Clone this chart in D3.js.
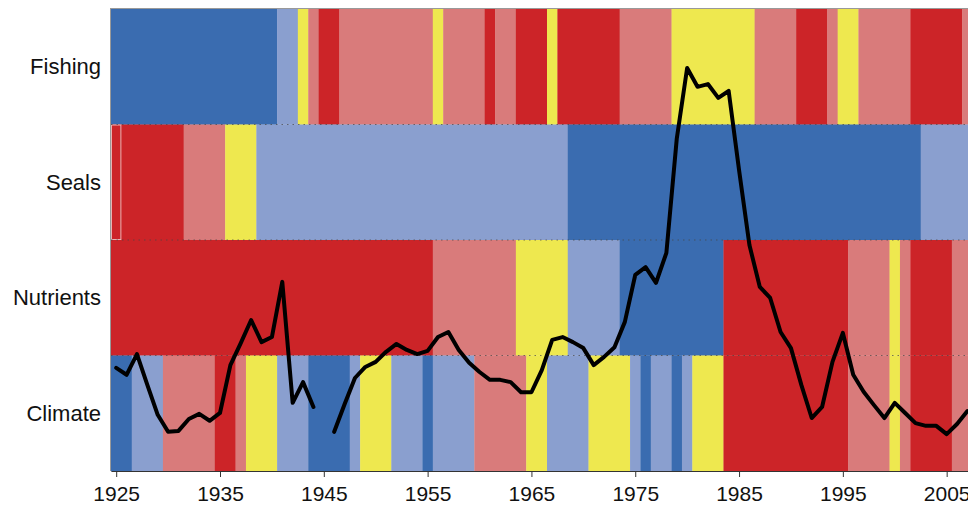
<!DOCTYPE html>
<html>
<head>
<meta charset="utf-8">
<script src="https://cdn.jsdelivr.net/npm/d3@7"></script>
<style>
  body { margin: 0; background: #fff; }
  svg { display: block; font-family: "Liberation Sans", Arial, Helvetica, sans-serif; }
</style>
</head>
<body>
<svg id="chart" width="968" height="507"></svg>
<script>
// rows, top to bottom
const rows = ["Fishing", "Seals", "Nutrients", "Climate"];

// state colours: DB dark blue, LB light blue, Y yellow, P pink, R red
const stateColors = { DB: "#3a6cb0", LB: "#8a9fcf", Y: "#eee84f", P: "#d97b7b", R: "#cc2428" };

// runs of years (first year, last year, state)
const fishingRuns = [
    [1925, 1940, "DB"], [1941, 1942, "LB"], [1943, 1943, "Y"], [1944, 1944, "P"],
    [1945, 1946, "R"], [1947, 1955, "P"], [1956, 1956, "Y"], [1957, 1960, "P"],
    [1961, 1961, "R"], [1962, 1963, "P"], [1964, 1966, "R"], [1967, 1967, "Y"],
    [1968, 1973, "R"], [1974, 1978, "P"], [1979, 1986, "Y"], [1987, 1990, "P"],
    [1991, 1993, "R"], [1994, 1994, "P"], [1995, 1996, "Y"], [1997, 2001, "P"],
    [2002, 2006, "R"], [2007, 2008, "P"]
];
const sealsRuns = [
    [1925, 1931, "R"], [1932, 1935, "P"], [1936, 1938, "Y"], [1939, 1968, "LB"],
    [1969, 2002, "DB"], [2003, 2008, "LB"]
];
const nutrientsRuns = [
    [1925, 1955, "R"], [1956, 1963, "P"], [1964, 1968, "Y"], [1969, 1973, "LB"],
    [1974, 1983, "DB"], [1984, 1995, "R"], [1996, 1999, "P"], [2000, 2000, "Y"],
    [2001, 2001, "P"], [2002, 2005, "R"], [2006, 2008, "P"]
];
const climateRuns = [
    [1925, 1926, "DB"], [1927, 1929, "LB"], [1930, 1934, "P"], [1935, 1936, "R"],
    [1937, 1937, "P"], [1938, 1940, "Y"], [1941, 1943, "LB"], [1944, 1947, "DB"],
    [1948, 1948, "LB"], [1949, 1951, "Y"], [1952, 1954, "LB"], [1955, 1955, "DB"],
    [1956, 1959, "LB"], [1960, 1964, "P"], [1965, 1966, "Y"], [1967, 1970, "LB"],
    [1971, 1974, "Y"], [1975, 1975, "LB"], [1976, 1976, "DB"], [1977, 1978, "LB"],
    [1979, 1979, "DB"], [1980, 1980, "LB"], [1981, 1983, "Y"], [1984, 1995, "R"],
    [1996, 1999, "P"], [2000, 2000, "Y"], [2001, 2001, "P"], [2002, 2005, "R"],
    [2006, 2008, "P"]
];

// black index line, one value per year from 1925 (null = no data)
const lineStartYear = 1925;
const lineValues = [
    22.2, 20.7, 25.2, 18.5, 12.0, 8.3, 8.5, 11.1, 12.2, 10.7,   // 1925-1934
    12.4, 22.8, 27.6, 32.6, 27.8, 28.9, 40.9, 14.6, 19.1, 13.7, // 1935-1944
    null, 8.3, 14.3, 20.0, 22.4, 23.5, 25.7, 27.4, 26.1, 25.2,  // 1945-1954
    25.9, 28.9, 30.0, 26.1, 23.3, 21.3, 19.6, 19.6, 19.1, 16.9, // 1955-1964
    16.9, 21.7, 28.3, 28.9, 27.8, 26.5, 22.8, 24.6, 26.7, 32.2, // 1965-1974
    42.4, 44.1, 40.7, 47.2, 72.0, 87.4, 83.3, 83.9, 80.9, 82.4, // 1975-1984
    65.2, 48.9, 39.8, 37.4, 30.0, 26.5, 18.5, 11.3, 13.7, 23.5, // 1985-1994
    29.8, 20.7, 17.0, 14.1, 11.3, 14.6, 12.4, 10.2, 9.6, 9.6,   // 1995-2004
    7.8, 10.0, 12.8                                              // 2005-2007
];

const tickYears = [1925, 1935, 1945, 1955, 1965, 1975, 1985, 1995, 2005];

const runsByRow = { Fishing: fishingRuns, Seals: sealsRuns, Nutrients: nutrientsRuns, Climate: climateRuns };

const svg = d3.select("#chart");

const x = d3.scaleLinear().domain([1924.5, 2008.5]).range([111, 983]);
const y = d3.scaleBand().domain(rows).range([9, 471]);
const yLine = d3.scaleLinear().domain([0, 100]).range([470, 10]);

//coloured cells for every row
const cells = rows.flatMap(r => runsByRow[r].map(d => ({ row: r, start: d[0], end: d[1], state: d[2] })));

svg.append("g")
    .selectAll("rect")
    .data(cells)
    .join("rect")
    .attr("x", d => x(d.start - 0.5))
    .attr("y", d => y(d.row))
    .attr("width", d => x(d.end + 0.5) - x(d.start - 0.5) + 0.3)
    .attr("height", y.bandwidth() + 0.3)
    .attr("fill", d => stateColors[d.state]);

// outlined first cell in the seals row
svg.append("rect")
    .attr("x", x(1924.5) + 0.5)
    .attr("y", y("Seals") + 0.5)
    .attr("width", x(1925.5) - x(1924.5) - 1)
    .attr("height", y.bandwidth() - 1)
    .attr("fill", "none")
    .attr("stroke", "#e9b3b3")
    .attr("stroke-width", 1);

// dotted row separators
svg.append("g")
    .selectAll("line")
    .data(rows.slice(1))
    .join("line")
    .attr("x1", x(1924.5))
    .attr("x2", 968)
    .attr("y1", d => y(d))
    .attr("y2", d => y(d))
    .attr("stroke", "#444")
    .attr("stroke-opacity", 0.7)
    .attr("stroke-width", 1)
    .attr("stroke-dasharray", "1.5,4");

// frame: top and left
svg.append("line")
    .attr("x1", x(1924.5)).attr("x2", 968)
    .attr("y1", 8.5).attr("y2", 8.5)
    .attr("stroke", "#999").attr("stroke-width", 1);
svg.append("line")
    .attr("x1", x(1924.5) - 0.5).attr("x2", x(1924.5) - 0.5)
    .attr("y1", 8).attr("y2", 471)
    .attr("stroke", "#999").attr("stroke-width", 1);

// row labels
svg.append("g")
    .selectAll("text")
    .data(rows)
    .join("text")
    .attr("x", 101)
    .attr("y", d => y(d) + y.bandwidth() / 2)
    .attr("dy", "0.35em")
    .attr("text-anchor", "end")
    .attr("font-size", 22)
    .attr("fill", "#111")
    .text(d => d);

// x axis
const xAxis = svg.append("g")
    .attr("transform", "translate(0,471)")
    .call(d3.axisBottom(x).tickValues(tickYears).tickFormat(d3.format("d")).tickSize(6).tickSizeOuter(0));
xAxis.select(".domain").attr("stroke", "#333");
xAxis.selectAll(".tick line").attr("stroke", "#333");
xAxis.selectAll(".tick text")
    .attr("font-size", 21)
    .attr("font-family", "Liberation Sans, Arial, sans-serif")
    .attr("fill", "#111")
    .attr("dy", "1.02em");

// black index line
const linePoints = lineValues.map((v, i) => ({ year: lineStartYear + i, value: v }));
const line = d3.line()
    .defined(d => d.value != null)
    .x(d => x(d.year))
    .y(d => yLine(d.value));

svg.append("path")
    .datum(linePoints)
    .attr("d", line)
    .attr("fill", "none")
    .attr("stroke", "#000")
    .attr("stroke-width", 4)
    .attr("stroke-linejoin", "round")
    .attr("stroke-linecap", "round");
</script>
</body>
</html>
